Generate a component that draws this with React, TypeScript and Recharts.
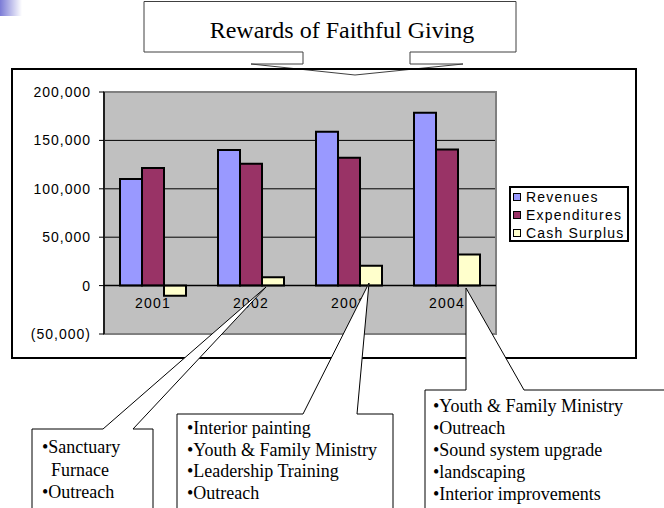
import React from "react";
import {
  BarChart,
  Bar,
  XAxis,
  YAxis,
  CartesianGrid,
  Legend,
  ReferenceLine,
  ReferenceArea,
} from "recharts";

// values
const years = ["2001", "2002", "2003", "2004"];
const revenues = [110000, 140000, 159000, 178500];
const expenditures = [121500, 126000, 132000, 140500];
const cashSurplus = [-10500, 8500, 20500, 32000];
const seriesNames = ["Revenues", "Expenditures", "Cash Surplus"];
const yTicks = [-50000, 0, 50000, 100000, 150000, 200000];
const gridValues = [50000, 100000, 150000];

const data = years.map((year, i) => ({
  year,
  revenues: revenues[i],
  expenditures: expenditures[i],
  cashSurplus: cashSurplus[i],
}));

const SANS = "'Liberation Sans', Arial, sans-serif";
const SERIF = "'Liberation Serif', 'Times New Roman', serif";

// callout annotations drawn over the chart
const titleShape =
  "144,1.5 516,1.5 516,52 410,52 410,64 463,64 355,75 251,64 303,64 303,52 144,52";

const callouts = [
  {
    shape: "32,429 103,429 266,287 133,429 153,429 153,530 32,530",
    x: 42,
    y: 453,
    gap: 22.5,
    lines: ["•Sanctuary", "\u00a0 Furnace", "•Outreach"],
  },
  {
    shape: "177,414 303,414 369,283 357,414 393,414 393,530 177,530",
    x: 187,
    y: 434,
    gap: 21.7,
    lines: [
      "•Interior painting",
      "•Youth & Family Ministry",
      "•Leadership Training",
      "•Outreach",
    ],
  },
  {
    shape: "425,390 466,390 466,288 524,390 680,390 680,530 425,530",
    x: 433,
    y: 412,
    gap: 22,
    lines: [
      "•Youth & Family Ministry",
      "•Outreach",
      "•Sound system upgrade",
      "•landscaping",
      "•Interior improvements",
    ],
  },
];

const fmt = (v: number) =>
  v < 0 ? `(${Math.abs(v).toLocaleString("en-US")})` : v.toLocaleString("en-US");

const YearTick = (props: any) => {
  const { x, payload } = props;
  return (
    <text
      x={x}
      y={308}
      textAnchor="middle"
      fill="#000"
      fontSize={14}
      fontFamily={SANS}
      letterSpacing={1.2}
    >
      {payload.value}
    </text>
  );
};

const LegendBox = (props: any) => {
  const payload = [...(props.payload || [])].sort(
    (a: any, b: any) => seriesNames.indexOf(a.value) - seriesNames.indexOf(b.value)
  );
  return (
    <div
      style={{
        width: 120,
        height: 56,
        boxSizing: "border-box",
        border: "2px solid #000",
        background: "#fff",
      }}
    >
      {payload.map((entry: any) => (
        <div
          key={entry.value}
          style={{
            display: "flex",
            alignItems: "center",
            height: 18,
            fontFamily: SANS,
            fontSize: 14,
            letterSpacing: 1.2,
            color: "#000",
            whiteSpace: "nowrap",
          }}
        >
          <span
            style={{
              display: "inline-block",
              width: 8,
              height: 8,
              boxSizing: "border-box",
              border: "1.5px solid #000",
              background: entry.color,
              marginLeft: 2,
              marginRight: 5,
            }}
          />
          <span>{entry.value}</span>
        </div>
      ))}
    </div>
  );
};

export default function App() {
  return (
    <div
      style={{
        position: "absolute",
        left: 0,
        top: 0,
        width: 664,
        height: 508,
        background: "#fff",
        overflow: "hidden",
      }}
    >
      <div
        style={{
          position: "absolute",
          left: 0,
          top: 0,
          width: 22,
          height: 16,
          background: "linear-gradient(to right, #7b7bd6, #ffffff)",
        }}
      />

      <svg
        width={664}
        height={508}
        style={{ position: "absolute", left: 0, top: 0 }}
      >
        <polygon points={titleShape} fill="#fff" stroke="#404040" strokeWidth={1} />
        <text
          x={342}
          y={38}
          textAnchor="middle"
          fontFamily={SERIF}
          fontSize={24}
          fill="#000"
        >
          Rewards of Faithful Giving
        </text>
      </svg>

      <div
        style={{
          position: "absolute",
          left: 11,
          top: 68,
          width: 626,
          height: 291,
          boxSizing: "border-box",
          border: "2px solid #000",
        }}
      />

      <div style={{ position: "absolute", left: 0, top: 0 }}>
        <BarChart
          width={664}
          height={508}
          data={data}
          margin={{ top: 92, right: 168, bottom: 154, left: 0 }}
          barCategoryGap={16}
          barGap={0}
        >
          <CartesianGrid
            vertical={false}
            horizontalValues={gridValues}
            stroke="#000"
            fill="#C0C0C0"
            fillOpacity={1}
          />
          <ReferenceArea
            y1={-50000}
            y2={200000}
            fill="none"
            stroke="#808080"
            strokeWidth={2}
          />
          <XAxis
            dataKey="year"
            height={20}
            axisLine={false}
            tickLine={false}
            tick={<YearTick />}
          />
          <YAxis
            width={104}
            domain={[-50000, 200000]}
            ticks={yTicks}
            interval={0}
            tickFormatter={fmt}
            tickSize={5}
            tickMargin={8}
            axisLine={{ stroke: "#000", strokeWidth: 1.5 }}
            tickLine={{ stroke: "#000" }}
            tick={{ fill: "#000", fontSize: 14, fontFamily: SANS, letterSpacing: 1 }}
          />
          <ReferenceLine y={0} stroke="#000" strokeWidth={1.5} />
          <Legend
            layout="vertical"
            align="center"
            verticalAlign="middle"
            wrapperStyle={{ left: 509, top: 186, width: 120 }}
            content={<LegendBox />}
          />
          <Bar
            dataKey="revenues"
            name="Revenues"
            fill="#9999FF"
            stroke="#000"
            strokeWidth={2}
            isAnimationActive={false}
          />
          <Bar
            dataKey="expenditures"
            name="Expenditures"
            fill="#993366"
            stroke="#000"
            strokeWidth={2}
            isAnimationActive={false}
          />
          <Bar
            dataKey="cashSurplus"
            name="Cash Surplus"
            fill="#FFFFCC"
            stroke="#000"
            strokeWidth={2}
            isAnimationActive={false}
          />
        </BarChart>
      </div>

      <svg
        width={664}
        height={508}
        style={{ position: "absolute", left: 0, top: 0, pointerEvents: "none" }}
      >
        {callouts.map((c, i) => (
          <g key={i}>
            <polygon points={c.shape} fill="#fff" stroke="#000" strokeWidth={1} />
            {c.lines.map((line, j) => (
              <text
                key={j}
                x={c.x}
                y={c.y + j * c.gap}
                fontFamily={SERIF}
                fontSize={18}
                fill="#000"
              >
                {line}
              </text>
            ))}
          </g>
        ))}
      </svg>
    </div>
  );
}
